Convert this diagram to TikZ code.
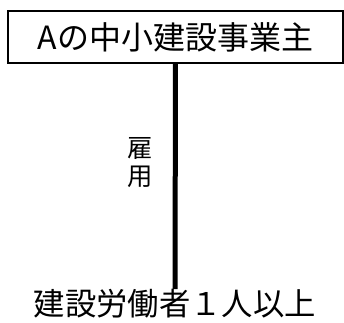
\documentclass[tikz,border=0pt]{standalone}
\usepackage{fontspec}
\setmainfont{Noto Sans CJK JP}
\begin{document}
\begin{tikzpicture}[x=0.75pt,y=-0.75pt]
\useasboundingbox (0,0) rectangle (344,323);
\node (jigyonushi) [draw, line width=1.5pt, minimum width=251pt, minimum height=39pt, inner sep=0pt, font=\fontsize{24}{28}\selectfont] at (175.5,37) {Aの中小建設事業主};
\node (rodosha) [inner sep=0pt, font=\fontsize{23.5}{28}\selectfont] at (175,304) {建設労働者１人以上};
\draw [line width=3.75pt] (jigyonushi.south) -- (rodosha.north);
\node (koyo) [inner sep=0pt, font=\fontsize{19}{22}\selectfont] at (140,166) {\begin{tabular}{c}雇\\[-1pt]用\end{tabular}};
\end{tikzpicture}
\end{document}
